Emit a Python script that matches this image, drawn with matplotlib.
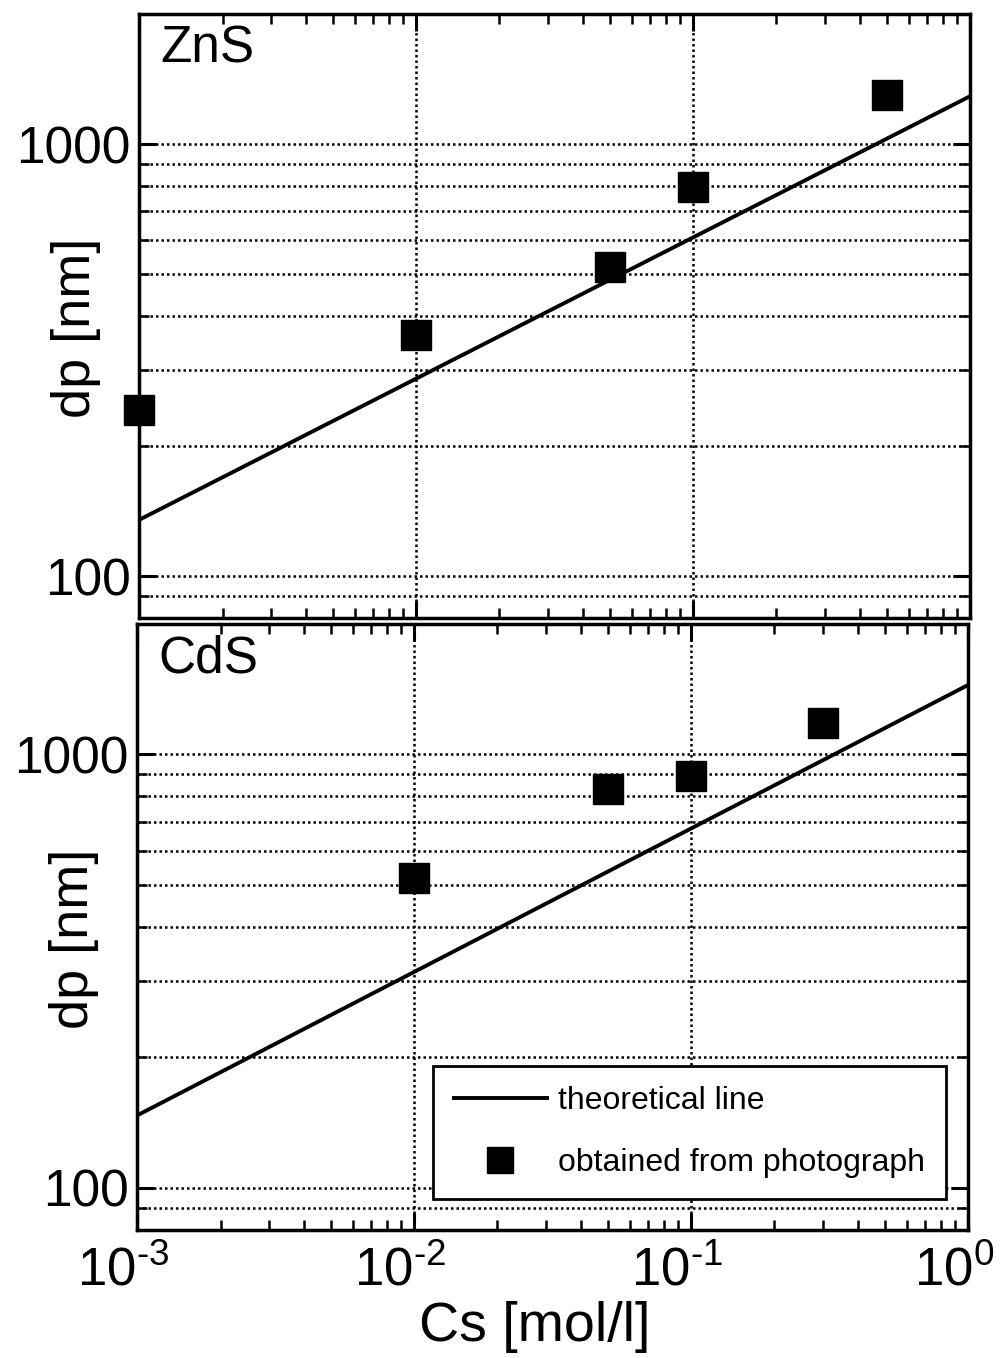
import matplotlib
matplotlib.use("Agg")
import matplotlib.pyplot as plt
from matplotlib.ticker import LogLocator, NullFormatter, FixedLocator
from matplotlib.transforms import ScaledTranslation

plt.rcParams['font.family'] = ['Liberation Sans', 'DejaVu Sans']
plt.rcParams['mathtext.fontset'] = 'custom'
plt.rcParams['mathtext.rm'] = 'Liberation Sans'
plt.rcParams['mathtext.it'] = 'Liberation Sans'

# ---- data ----
zns_cs = [0.001, 0.01, 0.05, 0.1, 0.5]
zns_dp = [242, 361, 519, 795, 1298]
zns_line_cs = [0.001, 1.0]
zns_line_dp = [135, 1290]

cds_cs = [0.01, 0.05, 0.1, 0.3]
cds_dp = [518, 834, 894, 1180]
cds_line_cs = [0.001, 1.0]
cds_line_dp = [147, 1446]

panel_names = ["ZnS", "CdS"]
x_major = [1e-3, 1e-2, 1e-1, 1e0]
x_labels = [r"10$^{\text{-3}}$", r"10$^{\text{-2}}$", r"10$^{\text{-1}}$", r"10$^{\text{0}}$"]
y_major = [100, 1000]
y_labels = ["100", "1000"]

fig = plt.figure(figsize=(10.01, 13.58), dpi=100)
ax1 = fig.add_axes([0.139, 0.5449, 0.830, 0.4448])
ax2 = fig.add_axes([0.137, 0.0943, 0.830, 0.4462])

datasets = [
    (ax1, zns_cs, zns_dp, zns_line_cs, zns_line_dp, panel_names[0]),
    (ax2, cds_cs, cds_dp, cds_line_cs, cds_line_dp, panel_names[1]),
]

for ax, cs, dp, lcs, ldp, name in datasets:
    ax.set_xscale('log')
    ax.set_yscale('log')
    ax.set_xlim(1e-3, 1.0)
    ax.set_ylim(80, 2000)
    line, = ax.plot(lcs, ldp, color='black', lw=2.8, label='theoretical line', zorder=3)
    pts, = ax.plot(cs, dp, 's', color='black', markersize=21, label='obtained from photograph',
                   zorder=4, clip_on=False)
    ax.xaxis.set_major_locator(FixedLocator(x_major))
    ax.xaxis.set_minor_locator(LogLocator(base=10, subs=range(2, 10), numticks=20))
    ax.yaxis.set_major_locator(FixedLocator(y_major))
    ax.yaxis.set_minor_locator(LogLocator(base=10, subs=range(2, 10), numticks=20))
    ax.yaxis.set_minor_formatter(NullFormatter())
    ax.xaxis.set_minor_formatter(NullFormatter())
    ax.set_yticklabels(y_labels)
    ax.grid(True, which='major', axis='x', linestyle=(0, (1, 1.2)), color='black', lw=1.8)
    ax.grid(True, which='both', axis='y', linestyle=(0, (1, 1.2)), color='black', lw=1.8)
    ax.tick_params(which='major', direction='in', length=12, width=2.2, top=True, right=True,
                   labelsize=37, pad=6)
    ax.tick_params(which='minor', direction='in', length=7, width=1.8, top=True, right=True)
    for s in ax.spines.values():
        s.set_linewidth(2.5)
    ax.text(0.025, 0.982, name, transform=ax.transAxes, ha='left', va='top', fontsize=37)
    ax.set_ylabel('dp [nm]', fontsize=39)
    ax.yaxis.set_label_coords(-0.046, 0.48)

ax1.set_xticklabels([])
ax2.set_xticklabels(x_labels)
ax2.tick_params(axis='x', which='major', pad=12, labelsize=38)
for lbl in ax2.get_xticklabels():
    lbl.set_transform(lbl.get_transform() + ScaledTranslation(-14 / 100, 0, fig.dpi_scale_trans))
ax2.set_xlabel('Cs [mol/l]', fontsize=40)
ax2.xaxis.set_label_coords(0.479, -0.118)

leg = ax2.legend(loc='lower right', bbox_to_anchor=(0.973, 0.051), fontsize=23,
                 frameon=True, fancybox=False, edgecolor='black', framealpha=1,
                 handlelength=2.9, borderpad=0.65, labelspacing=1.0, handletextpad=0.35,
                 markerscale=0.9, borderaxespad=0)
leg.get_frame().set_linewidth(2)

fig.savefig('out.png', dpi=100)
